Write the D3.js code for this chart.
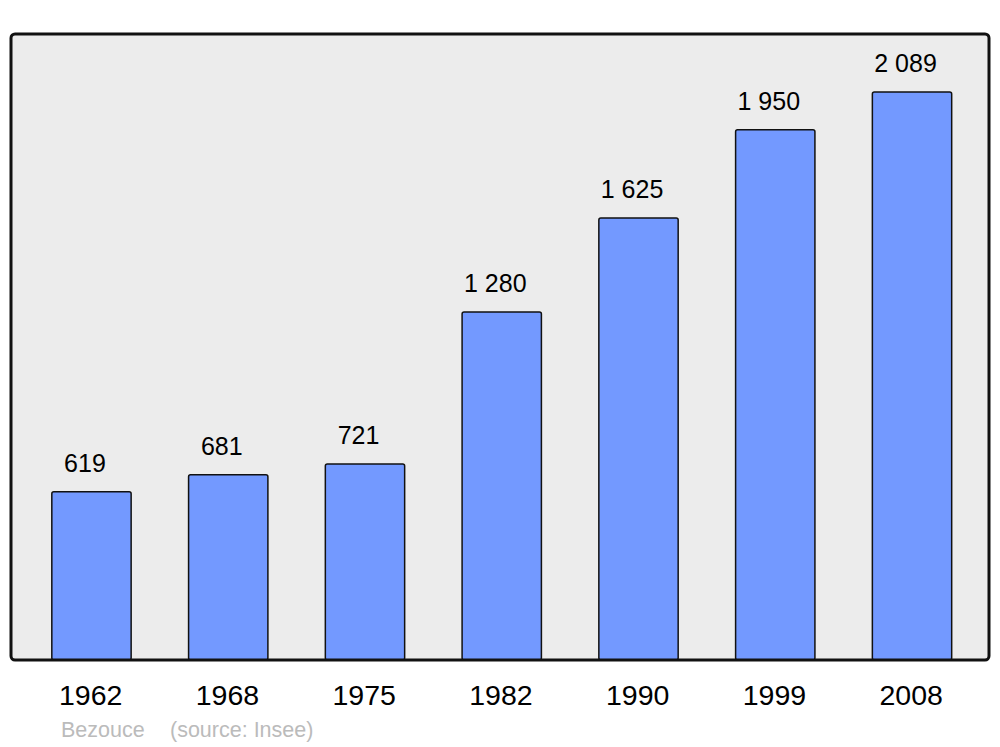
<!DOCTYPE html>
<html><head><meta charset="utf-8">
<script src="https://cdn.jsdelivr.net/npm/d3@7"></script>
<style>body{margin:0;background:#fff}svg{display:block}text{font-family:"Liberation Sans",Arial,sans-serif}</style>
</head><body>
<svg id="c" width="1000" height="747"></svg>
<script>
const years = ["1962","1968","1975","1982","1990","1999","2008"];
const population = [619, 681, 721, 1280, 1625, 1950, 2089];
const valueLabels = ["619","681","721","1 280","1 625","1 950","2 089"];
const footerLeft = "Bezouce";
const footerRight = "(source: Insee)";

const svg = d3.select("#c");
const x = d3.scaleBand().domain(years).range([23.1, 980.4]).paddingInner(0.42).paddingOuter(0.21);
const y = d3.scaleLinear().domain([0, 2302]).range([660, 34]);

svg.append("rect").attr("x",11).attr("y",34).attr("width",978).attr("height",626)
  .attr("rx",4).attr("fill","#ececec").attr("stroke","none");

svg.selectAll("rect.bar").data(population).join("rect").attr("class","bar")
  .attr("x",(d,i)=>x(years[i])).attr("width",x.bandwidth())
  .attr("y",d=>y(d)).attr("height",d=>y(0)-y(d))
  .attr("rx",2).attr("fill","#7399ff").attr("stroke","#111").attr("stroke-width",1.5);

svg.append("rect").attr("x",11).attr("y",34).attr("width",978).attr("height",626)
  .attr("rx",4).attr("fill","none").attr("stroke","#111").attr("stroke-width",3);

svg.selectAll("text.val").data(population).join("text").attr("class","val")
  .attr("x",(d,i)=>x(years[i])+x.bandwidth()/2-6.5).attr("y",d=>y(d)-20)
  .attr("text-anchor","middle").attr("font-size",25).attr("fill","#000")
  .text((d,i)=>valueLabels[i]);

const xAxis = d3.axisBottom(x).tickSize(0).tickPadding(0);
const ax = svg.append("g").attr("transform","translate(0,660)").call(xAxis);
ax.select(".domain").remove();
ax.selectAll("text").attr("font-size",28.5).attr("fill","#000").attr("dy",0).attr("y",45).attr("x",-0.8)
  .attr("font-family",'"Liberation Sans",Arial,sans-serif');

svg.append("text").attr("x",61).attr("y",737).attr("font-size",21.5).attr("fill","#bbb").text(footerLeft);
svg.append("text").attr("x",170).attr("y",737).attr("font-size",21.5).attr("fill","#bbb").text(footerRight);
</script>
</body></html>
